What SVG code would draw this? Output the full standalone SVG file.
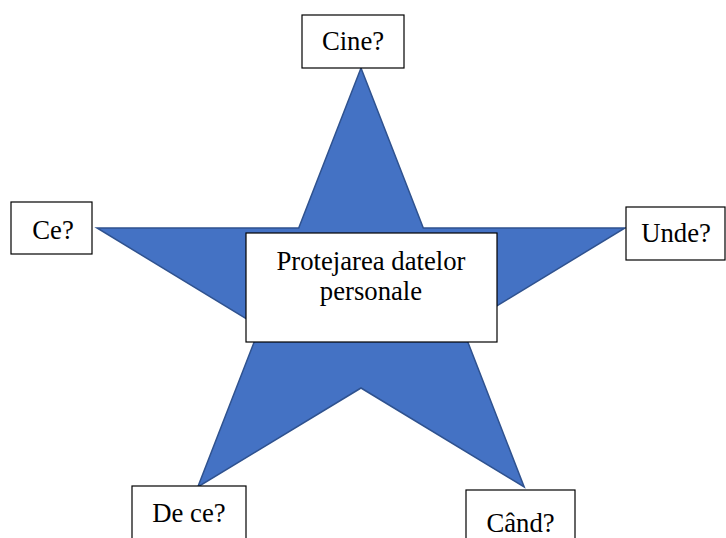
<svg xmlns="http://www.w3.org/2000/svg" width="726" height="538" viewBox="0 0 726 538">
<style>
.box{fill:#fff;stroke:#000;stroke-width:1.2}
.t{font-family:"Liberation Serif","Times New Roman",serif;font-size:26.7px;fill:#000;text-anchor:middle}
.star{fill:#4472C4;stroke:#2F528F;stroke-width:1.5;stroke-linejoin:miter}
</style>
<rect width="726" height="538" fill="#fff"/>
<g id="connectors"></g>
<g id="star">
<polygon class="star" points="361,68 423.3,228 625,228 462,327 524.2,487 361,388 197.8,487 260,327 97,228 298.7,228"/>
</g>
<g id="center">
<rect class="box" x="246" y="233" width="251" height="109"/>
<text class="t" x="371" y="270">Protejarea datelor</text>
<text class="t" x="371" y="300">personale</text>
</g>
<g id="cine">
<rect class="box" x="302" y="15" width="102" height="53"/>
<text class="t" x="353" y="50">Cine?</text>
</g>
<g id="ce">
<rect class="box" x="11" y="202" width="81" height="52"/>
<text class="t" x="53" y="239">Ce?</text>
</g>
<g id="unde">
<rect class="box" x="626" y="207" width="99" height="53"/>
<text class="t" x="676" y="242">Unde?</text>
</g>
<g id="dece">
<rect class="box" x="132" y="486" width="114" height="60"/>
<text class="t" x="189" y="522">De ce?</text>
</g>
<g id="cand">
<rect class="box" x="466" y="490" width="109" height="60"/>
<text class="t" x="520.5" y="532">Când?</text>
</g>
</svg>
